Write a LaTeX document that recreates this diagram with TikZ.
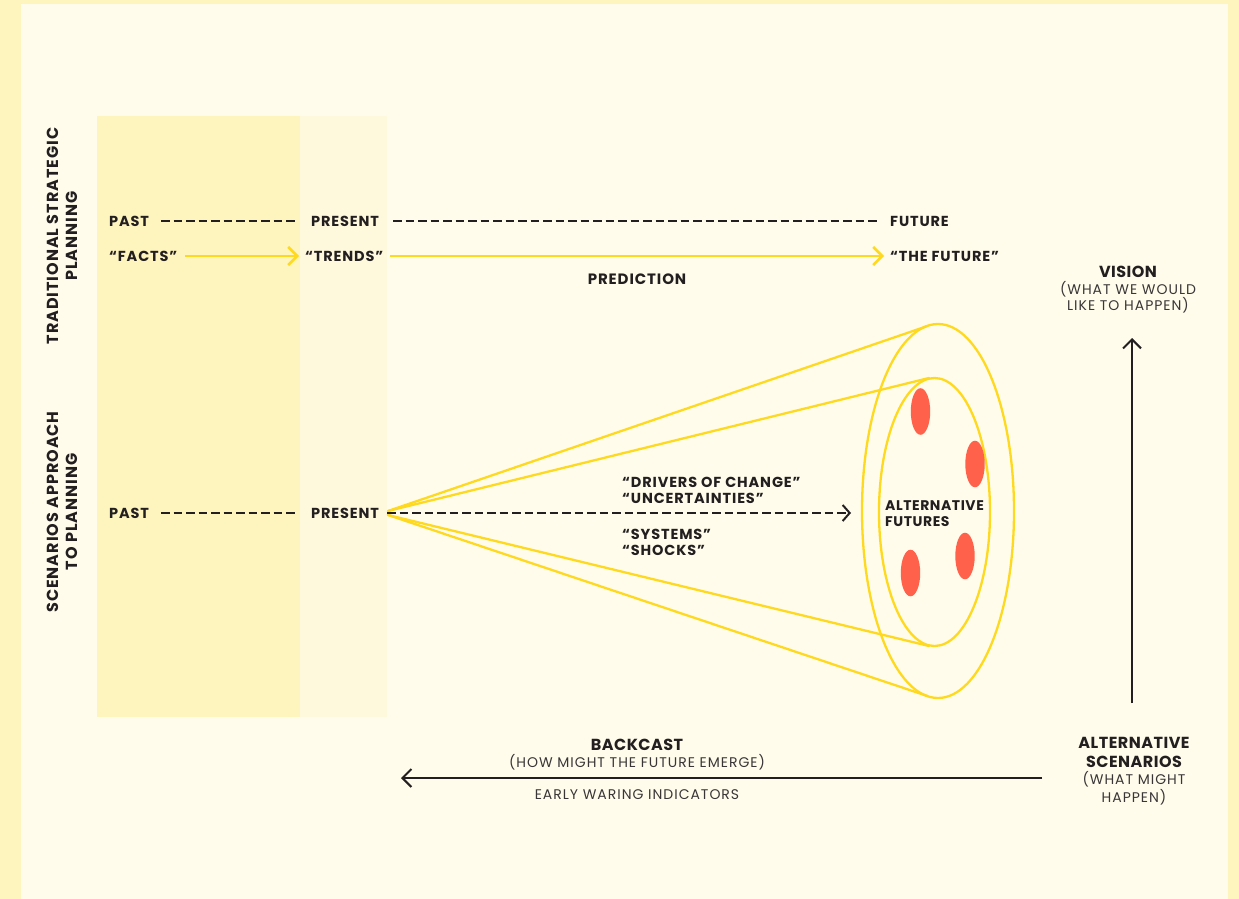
\documentclass[tikz,border=0pt]{standalone}
\usepackage{fontspec}
\setmainfont{Poppins}
\usetikzlibrary{arrows.meta}
\definecolor{bgout}{HTML}{FEF5BE}
\definecolor{bgin}{HTML}{FFFCEB}
\definecolor{pastcol}{HTML}{FEF5BE}
\definecolor{prescol}{HTML}{FEF9DC}
\definecolor{yel}{HTML}{FFD91F}
\definecolor{dotred}{HTML}{FF614A}
\definecolor{ink}{HTML}{231F20}
\definecolor{grayink}{HTML}{3A3638}
\newcommand{\lblfont}{\fontsize{14.5}{16}\selectfont\bfseries\addfontfeatures{LetterSpace=6}}
\tikzset{
  lbl/.style={anchor=west,inner sep=0pt,text=ink,font=\lblfont,text height=10pt,text depth=0pt},
  ttl/.style={inner sep=0pt,text=ink,font=\fontsize{16}{18}\selectfont\bfseries\addfontfeatures{LetterSpace=3},text height=11.5pt,text depth=0pt},
  sub/.style={inner sep=0pt,text=grayink,font=\fontsize{14}{16}\selectfont\addfontfeatures{LetterSpace=7},text height=9.5pt,text depth=0pt},
  side/.style={rotate=90,inner sep=0pt,text=ink,align=center,font=\fontsize{16}{19}\selectfont\bfseries\addfontfeatures{LetterSpace=6}},
  dashln/.style={draw=ink,line width=2pt,dash pattern=on 8.5pt off 4pt},
  yelarrow/.style={draw=yel,line width=2.5pt,-{Straight Barb[length=9pt,width=18pt,line width=2.5pt]}},
  blkarrow/.style={draw=ink,line width=2pt,-{Straight Barb[length=9pt,width=18pt,line width=2pt]}},
  yelln/.style={draw=yel,line width=2.3pt},
  reddot/.style={fill=dotred},
}
\begin{document}
\begin{tikzpicture}[x=1pt,y=-1pt]
\useasboundingbox (0,0) rectangle (1239,899);
% backgrounds
\fill[bgout] (0,0) rectangle (1239,899);
\fill[bgin] (21,4) rectangle (1228,899);
\fill[pastcol] (97,116) rectangle (300,717);
\fill[prescol] (300,116) rectangle (387,717);

% side labels
\node[side] (trad) at (62,236) {TRADITIONAL STRATEGIC\\PLANNING};
\node[side] (scen) at (62,512) {SCENARIOS APPROACH\\TO PLANNING};

% traditional row 1
\node[lbl] (pastA) at (109,221) {PAST};
\node[lbl] (presA) at (311,221) {PRESENT};
\node[lbl] (futA) at (890,221) {FUTURE};
\draw[dashln,shorten <=12pt,shorten >=15pt] (pastA.east) -- (presA.west);
\draw[dashln,shorten <=14pt,shorten >=13pt] (presA.east) -- (futA.west);

% traditional row 2
\node[lbl] (facts) at (109,256) {“FACTS”};
\node[lbl] (trends) at (305,256) {“TRENDS”};
\node[lbl] (thefut) at (890,256) {“THE FUTURE”};
\draw[yelarrow,shorten <=8pt,shorten >=6pt] (facts.east) -- (trends.west);
\draw[yelarrow,shorten <=7pt,shorten >=6pt] (trends.east) -- (thefut.west);
\node[lbl,anchor=center,font=\fontsize{15}{16}\selectfont\bfseries\addfontfeatures{LetterSpace=6}] (pred) at (637,279) {PREDICTION};

% vision
\node[ttl] (vision) at (1128,272) {VISION};
\node[sub] (vis1) at (1128,290) {(WHAT WE WOULD};
\node[sub] (vis2) at (1128,306) {LIKE TO HAPPEN)};

% cone
\coordinate (apexU) at (388,511);
\coordinate (apexL) at (388,515);
\draw[yelln] (938,511) ellipse [x radius=76, y radius=187];
\draw[yelln] (934.5,512) ellipse [x radius=55.5, y radius=134];
\draw[yelln,line cap=round] (apexU) -- (927.5,326);
\draw[yelln,line cap=round] (apexU) -- (929,378);
\draw[yelln,line cap=round] (apexL) -- (929,646);
\draw[yelln,line cap=round] (apexL) -- (927.5,696);
\fill[reddot] (920.5,411.5) ellipse [x radius=9.7, y radius=23.3];
\fill[reddot] (975,464) ellipse [x radius=9.7, y radius=23.3];
\fill[reddot] (965,556) ellipse [x radius=9.7, y radius=23.3];
\fill[reddot] (910.5,573) ellipse [x radius=9.7, y radius=23.3];

% scenarios row
\node[lbl] (pastB) at (109,513) {PAST};
\node[lbl] (presB) at (311,513) {PRESENT};
\draw[dashln,shorten <=12pt,shorten >=15pt] (pastB.east) -- (presB.west);
\node[lbl,align=left,text height=,text depth=,font=\fontsize{14}{16}\selectfont\bfseries\addfontfeatures{LetterSpace=4}] (altf) at (885,514) {ALTERNATIVE\\FUTURES};
\draw[dashln,-{Straight Barb[length=7pt,width=16pt,line width=2pt]},shorten <=8pt,shorten >=34pt] (presB.east) -- (altf.west |- presB.east);

\node[lbl] (drv) at (622,482) {“DRIVERS OF CHANGE”};
\node[lbl] (unc) at (622,498) {“UNCERTAINTIES”};
\node[lbl] (sys) at (622,534) {“SYSTEMS”};
\node[lbl] (shk) at (622,550) {“SHOCKS”};

% backcast
\node[ttl] (back) at (637,745) {BACKCAST};
\node[sub] (back1) at (637,763) {(HOW MIGHT THE FUTURE EMERGE)};
\node[sub] (early) at (637,795) {EARLY WARING INDICATORS};
\coordinate (bcStart) at (1042,778);
\coordinate (bcEnd) at (401,778);
\draw[blkarrow] (bcStart) -- (bcEnd);

% alternative scenarios
\node[ttl] (alts1) at (1134,743) {ALTERNATIVE};
\node[ttl] (alts2) at (1134,762) {SCENARIOS};
\node[sub] (alts3) at (1134,780) {(WHAT MIGHT};
\node[sub] (alts4) at (1134,798) {HAPPEN)};
\coordinate (vaStart) at (1132,703);
\coordinate (vaEnd) at (1132,338);
\draw[blkarrow] (vaStart) -- (vaEnd);
\end{tikzpicture}
\end{document}
